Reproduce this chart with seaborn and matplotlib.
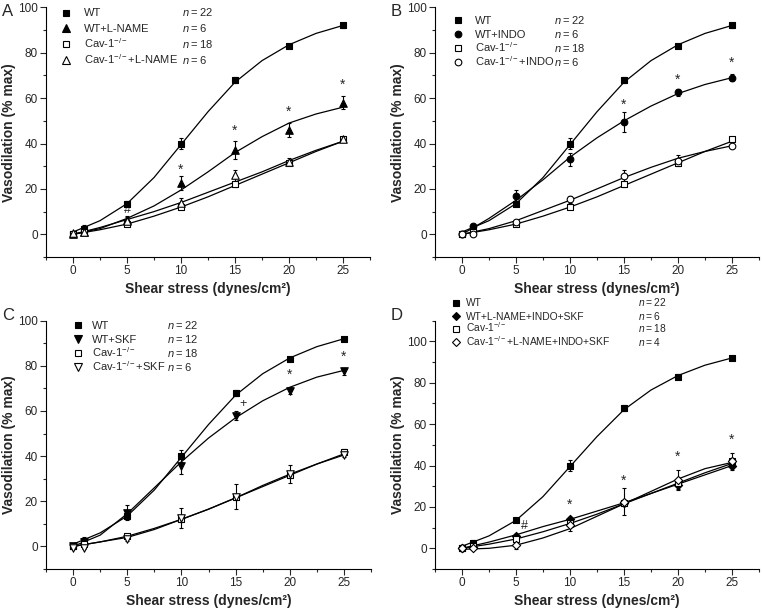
import numpy as np
import pandas as pd
import matplotlib
matplotlib.use("Agg")
import matplotlib.pyplot as plt
import seaborn as sns
from matplotlib.ticker import MultipleLocator
from matplotlib.lines import Line2D

# ---- data -----------------------------------------------------------------
shear = [0, 1, 5, 10, 15, 20, 25]
curve_x = [0, 2.5, 5, 7.5, 10, 12.5, 15, 17.5, 20, 22.5, 25]

wt = [0, 2.5, 13.5, 40, 68, 83, 92]
wt_err = [0, 1.5, 1, 2.5, 1.5, 1, 1]
wt_fit = [1, 6, 13.5, 25, 39.5, 54, 67, 76.5, 83.5, 88.5, 92]

cav = [0, 1, 4.5, 12, 22, 31.5, 42]
cav_err = [0, 0.5, 1, 1, 1, 1, 1]
cav_fit = [0, 2, 4.5, 8, 12, 16.5, 21.5, 26.5, 31.5, 36.5, 41]

wt_lname = [0, 1, 6.5, 22.5, 37, 46, 58]
wt_lname_err = [0, 1, 1.5, 3, 4, 3, 3]
wt_lname_fit = [0, 2.5, 7, 12.5, 19.5, 27.5, 36, 43, 49, 53, 56]
cav_lname = [0.5, 1, 6, 14, 26, 32, 42]
cav_lname_err = [0, 1, 1.5, 2, 2.5, 1.5, 1]
cav_lname_fit = [0, 3, 6.5, 10, 14, 18.5, 23, 27.5, 32.5, 37, 41]

wt_indo = [0, 3.5, 17, 33, 49.5, 62.5, 69]
wt_indo_err = [0, 1, 2.5, 3, 4.5, 1.5, 1.5]
wt_indo_fit = [0, 7, 15, 24, 34, 42.5, 50, 56.5, 62, 66, 69]
cav_indo = [0, 0, 5.5, 15.5, 25.5, 32.5, 39]
cav_indo_err = [0, 0.5, 1, 1.5, 3, 2.5, 1]
cav_indo_fit = [0, 2.5, 6, 10.5, 15, 20, 25, 29.5, 33.5, 36.5, 39]

wt_skf = [0, 2, 15, 35.5, 58, 69, 77.5]
wt_skf_err = [0, 1.5, 3.5, 3.5, 2, 1.5, 1.5]
wt_skf_fit = [0, 5, 14.5, 26, 37.5, 48, 57, 64.5, 70.5, 75, 78]
cav_skf = [-0.5, -0.5, 3.5, 12.5, 22, 32, 40.5]
cav_skf_err = [0, 0.5, 1, 4.5, 5.5, 4, 1]
cav_skf_fit = [0, 2, 4, 7.5, 12, 16.5, 21.5, 27, 32, 36.5, 40.5]

wt_all = [0, 0.5, 6, 14, 22, 30.5, 40]
wt_all_err = [0, 0.5, 1, 1, 1.5, 2, 1]
wt_all_fit = [0, 3, 6.5, 10.5, 14, 18, 22, 26.5, 31, 35.5, 40]
cav_all = [0, 0, 1.5, 11.5, 22.5, 33, 42]
cav_all_err = [0, 0.5, 2, 3, 6.5, 5, 4]
cav_all_fit = [-0.5, 0, 1.5, 5, 9.5, 15.5, 21.5, 27.5, 33.5, 38.5, 41.5]

cav_label = "Cav-1$^{-/-}$"

panels = [
    dict(letter="A", ytop=100,
         series=[("WT", "22", wt, wt_err, wt_fit, "s", "k"),
                 ("WT+L-NAME", "6", wt_lname, wt_lname_err, wt_lname_fit, "^", "k"),
                 (cav_label, "18", cav, cav_err, cav_fit, "s", "w"),
                 (cav_label + "+L-NAME", "6", cav_lname, cav_lname_err, cav_lname_fit, "^", "w")],
         marks=[(5, 10.5, "#"), (10, 28.5, "*"), (15, 45.5, "*"), (20, 54, "*"), (25, 66, "*")],
         leg=(66, 12.5, 15.9, 18, 182, 8)),
    dict(letter="B", ytop=100,
         series=[("WT", "22", wt, wt_err, wt_fit, "s", "k"),
                 ("WT+INDO", "6", wt_indo, wt_indo_err, wt_indo_fit, "o", "k"),
                 (cav_label, "18", cav, cav_err, cav_fit, "s", "w"),
                 (cav_label + "+INDO", "6", cav_indo, cav_indo_err, cav_indo_fit, "o", "w")],
         marks=[(15, 57, "*"), (20, 68, "*"), (25, 75.5, "*")],
         leg=(458, 20.3, 14, 17, 554, 8)),
    dict(letter="C", ytop=100,
         series=[("WT", "22", wt, wt_err, wt_fit, "s", "k"),
                 ("WT+SKF", "12", wt_skf, wt_skf_err, wt_skf_fit, "v", "k"),
                 (cav_label, "18", cav, cav_err, cav_fit, "s", "w"),
                 (cav_label + "+SKF", "6", cav_skf, cav_skf_err, cav_skf_fit, "v", "w")],
         marks=[(15.7, 63, "+"), (20, 76, "*"), (25, 84, "*")],
         leg=(78, 325.3, 13.9, 13.5, 167, 8)),
    dict(letter="D", ytop=110,
         series=[("WT", "22", wt, wt_err, wt_fit, "s", "k"),
                 ("WT+L-NAME+INDO+SKF", "6", wt_all, wt_all_err, wt_all_fit, "D", "k"),
                 (cav_label, "18", cav, cav_err, cav_fit, "s", "w"),
                 (cav_label + "+L-NAME+INDO+SKF", "4", cav_all, cav_all_err, cav_all_fit, "D", "w")],
         marks=[(5.8, 11, "#"), (10, 21, "*"), (15, 32.5, "*"), (20, 44, "*"), (25, 52.5, "*")],
         leg=(456, 302.5, 13, 9.5, 638, 7.4)),
]

# ---- style ---------------------------------------------------------------
sns.set_style("ticks")
plt.rcParams["font.family"] = ["Liberation Sans", "DejaVu Sans"]
plt.rcParams["mathtext.fontset"] = "custom"
plt.rcParams["mathtext.rm"] = "Liberation Sans"
plt.rcParams["mathtext.it"] = "Liberation Sans:italic"
plt.rcParams["mathtext.bf"] = "Liberation Sans:bold"

W, H = 762, 609
fig = plt.figure(figsize=(W / 100, H / 100), dpi=100)

# axes boxes in pixels: left, right, top, bottom
boxes = [(46, 370, 7.3, 257), (435, 759, 7.3, 257),
         (46, 371, 320.7, 569), (435, 759, 320.7, 569)]
letter_pos = [(2, 11), (391, 11), (2, 316), (391, 316)]

msize = {"s": 4.4, "^": 5.4, "v": 5.4, "o": 4.8, "D": 4.2}


def fx(px):
    return px / W


def fy(py):
    return (H - py) / H


for p, (l, r, t, b), (lx, ly) in zip(panels, boxes, letter_pos):
    ax = fig.add_axes([fx(l), fy(b), (r - l) / W, (b - t) / H])
    for i, (name, n, y, err, fit, mk, face) in enumerate(p["series"]):
        sns.lineplot(x=curve_x, y=fit, ax=ax, color="k", lw=0.9, zorder=2)
        ax.errorbar(shear, y, yerr=err, fmt="none", ecolor="k", elinewidth=0.8,
                    capsize=1.5, capthick=0.8, zorder=3)
        df = pd.DataFrame({"x": shear, "y": y})
        sns.scatterplot(data=df, x="x", y="y", ax=ax, marker=mk, s=msize[mk] ** 2,
                        color=face, edgecolor="k", linewidth=0.8, zorder=4 + i)

    for sx, sy, sym in p["marks"]:
        ax.text(sx, sy, sym, ha="center", va="center", fontsize=10 if sym == "*" else 9)

    ax.set_xlim(-2.5, 27.5)
    ax.set_ylim(-10, p["ytop"])
    ax.xaxis.set_major_locator(MultipleLocator(5))
    ax.xaxis.set_minor_locator(MultipleLocator(2.5))
    ax.yaxis.set_minor_locator(MultipleLocator(10))
    ax.set_yticks(range(0, 101, 20))
    ax.tick_params(which="major", direction="out", length=4, width=0.8, labelsize=8.5, pad=2)
    ax.tick_params(which="minor", direction="out", length=2.5, width=0.8)
    sns.despine(ax=ax)
    for s in ["left", "bottom"]:
        ax.spines[s].set_linewidth(0.8)
        ax.spines[s].set_color("k")
    ax.set_xlabel("Shear stress (dynes/cm\u00b2)", fontsize=10, fontweight="bold", labelpad=3)
    ax.set_ylabel("Vasodilation (% max)", fontsize=10, fontweight="bold", labelpad=1)

    # legend drawn row by row so the n column lines up
    mx, my, step, gap, nx, fs = p["leg"]
    for i, (name, n, y, err, fit, mk, face) in enumerate(p["series"]):
        row = my + i * step
        fig.add_artist(Line2D([fx(mx)], [fy(row)], transform=fig.transFigure, ls="none",
                              marker=mk, markersize=msize[mk], markerfacecolor=face,
                              markeredgecolor="k", markeredgewidth=0.8))
        fig.text(fx(mx + gap), fy(row + 4), name, fontsize=fs, va="baseline", ha="left")
        fig.text(fx(nx), fy(row + 4), "$\\mathit{n}$\u2009=\u2009" + n, fontsize=fs,
                 va="baseline", ha="left")
    fig.text(fx(lx), fy(ly), p["letter"], fontsize=12, va="center", ha="left")

fig.savefig("out.png", dpi=100)
